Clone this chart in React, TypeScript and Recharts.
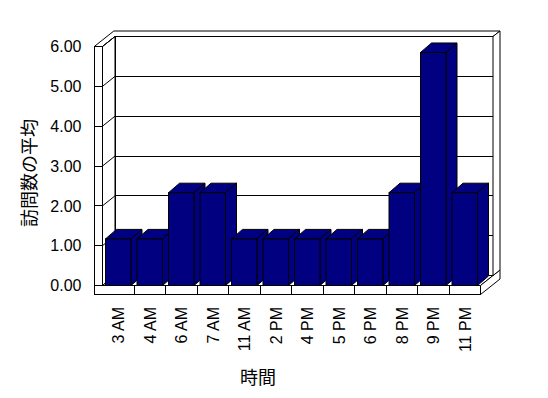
import React from "react";
import { Bar, BarChart, Customized, XAxis, YAxis } from "recharts";

const times = ["3 AM", "4 AM", "6 AM", "7 AM", "11 AM", "2 PM", "4 PM", "5 PM", "6 PM", "8 PM", "9 PM", "11 PM"];
const averages = [1.17, 1.17, 2.33, 2.33, 1.17, 1.17, 1.17, 1.17, 1.17, 2.33, 5.85, 2.33];
const yTicks = [0, 1, 2, 3, 4, 5, 6];

const data = times.map((time, i) => ({ time, avg: averages[i] }));

const W = 548;
const H = 398;
// plot area (front plane of the 3d box)
const PL = 102.5;
const PR = 480.5;
const PT = 46.5;
const PB = 285.5;
const YAXIS_W = 20;
const XAXIS_H = 60;
const WALL = 8.2; // left wall thickness
const FLOOR = 9; // floor thickness
const D1 = [12.5, -10]; // inner back wall offset
const D2 = [19.5, -15.5]; // outer back wall offset
const BAR_D = [11, -9.5];
const NAVY = "#000080";
const NUM_FONT = "'Liberation Sans', Arial, sans-serif";
const JP_FONT = "'Noto Sans CJK JP', sans-serif";

const yMax = yTicks[yTicks.length - 1];
const yOf = (v: number) => PB - ((PB - PT) * v) / yMax;
const pts = (arr: number[][]) => arr.map((p) => p.join(",")).join(" ");

function Walls() {
  const xL0 = PL - WALL;
  const yB = PB + FLOOR;
  const band = (PR - PL) / times.length;
  const line = { stroke: "#000", strokeWidth: 1, shapeRendering: "crispEdges" as const };
  return (
    <g>
      {/* top faces of left + back walls */}
      <polygon
        points={pts([
          [xL0, PT],
          [PL, PT],
          [PL + D1[0], PT + D1[1]],
          [PR + D1[0], PT + D1[1]],
          [PR + D2[0], PT + D2[1]],
          [xL0 + D2[0], PT + D2[1]],
        ])}
        fill="#fff"
        stroke="#000"
      />
      {/* back wall inner face */}
      <rect
        x={PL + D1[0]}
        y={PT + D1[1]}
        width={PR - PL}
        height={PB - PT}
        fill="#fff"
        {...line}
      />
      {yTicks.map((v) => (
        <line key={"g" + v} x1={PL + D1[0]} x2={PR + D1[0]} y1={yOf(v) + D1[1]} y2={yOf(v) + D1[1]} {...line} />
      ))}
      {/* left wall inner face */}
      <polygon
        points={pts([
          [PL, PT],
          [PL + D1[0], PT + D1[1]],
          [PL + D1[0], PB + D1[1]],
          [PL, PB],
        ])}
        fill="#fff"
        stroke="#000"
      />
      {yTicks.map((v) => (
        <line key={"d" + v} x1={PL} x2={PL + D1[0]} y1={yOf(v)} y2={yOf(v) + D1[1]} stroke="#000" />
      ))}
      {/* left wall front face */}
      <rect x={xL0} y={PT} width={WALL} height={PB - PT} fill="#fff" {...line} />
      {yTicks.map((v) => (
        <line key={"t" + v} x1={xL0} x2={PL} y1={yOf(v)} y2={yOf(v)} {...line} />
      ))}
      {/* floor */}
      <polygon
        points={pts([
          [PL, PB],
          [PR, PB],
          [PR + D1[0], PB + D1[1]],
          [PL + D1[0], PB + D1[1]],
        ])}
        fill="#fff"
        stroke="#000"
      />
      <rect x={xL0} y={PB} width={PR - xL0} height={FLOOR} fill="#fff" {...line} />
      {times.slice(1).map((t, i) => (
        <line key={"s" + t} x1={PL + band * (i + 1)} x2={PL + band * (i + 1)} y1={PB} y2={yB} {...line} />
      ))}
      <polygon
        points={pts([
          [PR, PB],
          [PR + D2[0], PB + D2[1]],
          [PR + D2[0], yB + D2[1]],
          [PR, yB],
        ])}
        fill="#fff"
        stroke="#000"
      />
      <polygon
        points={pts([
          [PR + D1[0], PT + D1[1]],
          [PR + D2[0], PT + D2[1]],
          [PR + D2[0], PB + D2[1]],
          [PR + D1[0], PB + D1[1]],
        ])}
        fill="#fff"
        stroke="#000"
      />
      {/* axis titles */}
      <text
        x={28}
        y={173}
        transform="rotate(-90 28 173)"
        textAnchor="middle"
        dominantBaseline="central"
        fontFamily={JP_FONT}
        fontSize={18}
        fill="#000"
      >
        訪問数の平均
      </text>
      <text x={258} y={376} textAnchor="middle" dominantBaseline="central" fontFamily={JP_FONT} fontSize={18} fill="#000">
        時間
      </text>
    </g>
  );
}

function Bar3D(props: any) {
  const { x, y, width, height } = props;
  if (x == null || height == null || height <= 0) return null;
  const [dx, dy] = BAR_D;
  const x2 = x + width;
  const yb = y + height;
  return (
    <g stroke="#000" strokeWidth={1} fill={NAVY}>
      <polygon points={pts([[x, y], [x + dx, y + dy], [x2 + dx, y + dy], [x2, y]])} />
      <polygon points={pts([[x2, y], [x2 + dx, y + dy], [x2 + dx, yb + dy], [x2, yb]])} />
      <rect x={x} y={y} width={width} height={height} />
    </g>
  );
}

function YTick(props: any) {
  const { y, payload } = props;
  return (
    <text x={PL - 21} y={y} dy="0.36em" textAnchor="end" fontFamily={NUM_FONT} fontSize={16} fill="#000">
      {Number(payload.value).toFixed(2)}
    </text>
  );
}

function XTick(props: any) {
  const { x, payload } = props;
  const ty = PB + 21.5;
  return (
    <text
      x={x}
      y={ty}
      dy="0.36em"
      transform={`rotate(-90 ${x} ${ty})`}
      textAnchor="end"
      fontFamily={NUM_FONT}
      fontSize={16}
      fill="#000"
    >
      {payload.value}
    </text>
  );
}

export default function App() {
  return (
    <div style={{ position: "absolute", left: 0, top: 0, width: W, height: H, background: "#fff" }}>
      <BarChart
        width={W}
        height={H}
        data={data}
        margin={{ top: PT, right: W - PR, bottom: H - PB - XAXIS_H, left: PL - YAXIS_W }}
      >
        <Customized component={Walls} />
        <XAxis dataKey="time" height={XAXIS_H} axisLine={false} tickLine={false} tick={XTick} interval={0} />
        <YAxis
          width={YAXIS_W}
          domain={[0, yMax]}
          ticks={yTicks}
          axisLine={false}
          tickLine={false}
          tick={YTick}
          interval={0}
        />
        <Bar dataKey="avg" barSize={25.5} shape={Bar3D} isAnimationActive={false} />
      </BarChart>
    </div>
  );
}
